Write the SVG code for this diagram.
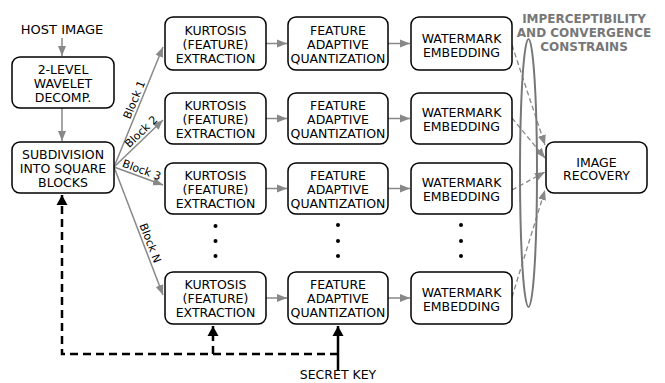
<svg xmlns="http://www.w3.org/2000/svg" width="665" height="383" viewBox="0 0 665 383">
<defs>
<marker id="ga" markerUnits="userSpaceOnUse" markerWidth="10" markerHeight="10" viewBox="0 0 10 10" refX="10" refY="5" orient="auto"><path d="M0,1 L10,5 L0,9 Z" fill="#888"/></marker>
<marker id="ba" markerUnits="userSpaceOnUse" markerWidth="10" markerHeight="12" viewBox="0 0 10 12" refX="10" refY="6" orient="auto"><path d="M0,0.5 L10,6 L0,11.5 Z" fill="#000"/></marker>
<style>
.box{fill:#fff;stroke:#000;stroke-width:1.5}
.t{font-family:"DejaVu Sans",sans-serif;font-size:12.5px;fill:#000;text-anchor:middle}
.bl{font-family:"DejaVu Sans",sans-serif;font-size:11px;fill:#000;text-anchor:middle}
.ttl{font-family:"DejaVu Sans",sans-serif;font-size:12px;font-weight:bold;fill:#777;text-anchor:middle}
.g{stroke:#888;stroke-width:1.5;fill:none}
.gd{stroke:#888;stroke-width:1.3;fill:none;stroke-dasharray:5,3}
.kd{stroke:#000;stroke-width:2.5;fill:none;stroke-dasharray:8,5}
.ks{stroke:#000;stroke-width:2.5;fill:none}
.dot{fill:#000}
</style>
</defs>

<text class="t" x="62" y="34" style="font-size:13px">HOST IMAGE</text>

<g id="connectors">
<line class="g" x1="62" y1="38" x2="62" y2="56" marker-end="url(#ga)"/>
<line class="g" x1="62" y1="108" x2="62" y2="141" marker-end="url(#ga)"/>
<line class="g" x1="114" y1="167" x2="163" y2="47" marker-end="url(#ga)"/>
<line class="g" x1="114" y1="167" x2="163" y2="120" marker-end="url(#ga)"/>
<line class="g" x1="114" y1="167" x2="163" y2="185" marker-end="url(#ga)"/>
<line class="g" x1="114" y1="167" x2="163" y2="295" marker-end="url(#ga)"/>
<line class="g" x1="266" y1="43.5" x2="287" y2="43.5" marker-end="url(#ga)"/>
<line class="g" x1="266" y1="118.5" x2="287" y2="118.5" marker-end="url(#ga)"/>
<line class="g" x1="266" y1="188.5" x2="287" y2="188.5" marker-end="url(#ga)"/>
<line class="g" x1="266" y1="298" x2="287" y2="298" marker-end="url(#ga)"/>
<line class="g" x1="388" y1="43.5" x2="410" y2="43.5" marker-end="url(#ga)"/>
<line class="g" x1="388" y1="118.5" x2="410" y2="118.5" marker-end="url(#ga)"/>
<line class="g" x1="388" y1="188.5" x2="410" y2="188.5" marker-end="url(#ga)"/>
<line class="g" x1="388" y1="298" x2="410" y2="298" marker-end="url(#ga)"/>
<line class="gd" x1="512" y1="45" x2="545" y2="145" marker-end="url(#ga)"/>
<line class="gd" x1="512" y1="118" x2="545" y2="158" marker-end="url(#ga)"/>
<line class="gd" x1="512" y1="190" x2="545" y2="172" marker-end="url(#ga)"/>
<line class="gd" x1="512" y1="297" x2="545" y2="190" marker-end="url(#ga)"/>
<path class="kd" d="M338,354 H62 V195" marker-end="url(#ba)"/>
<path class="kd" d="M213,354 V326" marker-end="url(#ba)"/>
<path class="ks" d="M338,370 V326" marker-end="url(#ba)"/>
<text class="bl" transform="translate(140.5,102.2) rotate(-67.8)" x="0" y="-3">Block 1</text>
<text class="bl" transform="translate(145.8,136.6) rotate(-43.8)" x="0" y="-3">Block 2</text>
<text class="bl" transform="translate(139.4,176.3) rotate(20.2)" x="0" y="-3">Block 3</text>
<text class="bl" transform="translate(144,245.4) rotate(69)" x="0" y="-3">Block N</text>
</g>

<g id="constraint">
<ellipse cx="528.5" cy="173" rx="8.5" ry="134" fill="none" stroke="#777" stroke-width="2"/>
<text class="ttl" x="584" y="22.5">IMPERCEPTIBILITY</text>
<text class="ttl" x="584" y="36.5">AND CONVERGENCE</text>
<text class="ttl" x="584" y="50.5">CONSTRAINS</text>
</g>

<g id="wavelet">
<rect class="box" x="12" y="57" width="102" height="51" rx="8"/>
<text class="t" x="63" y="74">2-LEVEL</text>
<text class="t" x="63" y="88">WAVELET</text>
<text class="t" x="63" y="102">DECOMP.</text>
</g>

<g id="subdivision">
<rect class="box" x="12" y="142" width="102" height="51" rx="8"/>
<text class="t" x="63" y="159">SUBDIVISION</text>
<text class="t" x="63" y="173">INTO SQUARE</text>
<text class="t" x="63" y="187">BLOCKS</text>
</g>

<g id="kurtosis1"><rect class="box" x="165" y="17" width="101" height="53" rx="8"/>
<text class="t" x="215.5" y="34.5">KURTOSIS</text><text class="t" x="215.5" y="48.5">(FEATURE)</text><text class="t" x="215.5" y="62.5">EXTRACTION</text></g>
<g id="kurtosis2"><rect class="box" x="165" y="93" width="101" height="51" rx="8"/>
<text class="t" x="215.5" y="109.5">KURTOSIS</text><text class="t" x="215.5" y="123.5">(FEATURE)</text><text class="t" x="215.5" y="137.5">EXTRACTION</text></g>
<g id="kurtosis3"><rect class="box" x="165" y="163" width="101" height="51" rx="8"/>
<text class="t" x="215.5" y="179.5">KURTOSIS</text><text class="t" x="215.5" y="193.5">(FEATURE)</text><text class="t" x="215.5" y="207.5">EXTRACTION</text></g>
<g id="kurtosisN"><rect class="box" x="165" y="272" width="101" height="52" rx="8"/>
<text class="t" x="215.5" y="289">KURTOSIS</text><text class="t" x="215.5" y="303">(FEATURE)</text><text class="t" x="215.5" y="317">EXTRACTION</text></g>

<g id="quant1"><rect class="box" x="288" y="17" width="100" height="53" rx="8"/>
<text class="t" x="338" y="34.5">FEATURE</text><text class="t" x="338" y="48.5">ADAPTIVE</text><text class="t" x="338" y="62.5">QUANTIZATION</text></g>
<g id="quant2"><rect class="box" x="288" y="93" width="100" height="51" rx="8"/>
<text class="t" x="338" y="109.5">FEATURE</text><text class="t" x="338" y="123.5">ADAPTIVE</text><text class="t" x="338" y="137.5">QUANTIZATION</text></g>
<g id="quant3"><rect class="box" x="288" y="163" width="100" height="51" rx="8"/>
<text class="t" x="338" y="179.5">FEATURE</text><text class="t" x="338" y="193.5">ADAPTIVE</text><text class="t" x="338" y="207.5">QUANTIZATION</text></g>
<g id="quantN"><rect class="box" x="288" y="272" width="100" height="52" rx="8"/>
<text class="t" x="338" y="289">FEATURE</text><text class="t" x="338" y="303">ADAPTIVE</text><text class="t" x="338" y="317">QUANTIZATION</text></g>

<g id="wm1"><rect class="box" x="411" y="17" width="101" height="53" rx="8"/>
<text class="t" x="461.5" y="42.5">WATERMARK</text><text class="t" x="461.5" y="56.5">EMBEDDING</text></g>
<g id="wm2"><rect class="box" x="411" y="93" width="101" height="51" rx="8"/>
<text class="t" x="461.5" y="117">WATERMARK</text><text class="t" x="461.5" y="131">EMBEDDING</text></g>
<g id="wm3"><rect class="box" x="411" y="163" width="101" height="51" rx="8"/>
<text class="t" x="461.5" y="187">WATERMARK</text><text class="t" x="461.5" y="201">EMBEDDING</text></g>
<g id="wmN"><rect class="box" x="411" y="272" width="101" height="52" rx="8"/>
<text class="t" x="461.5" y="297">WATERMARK</text><text class="t" x="461.5" y="311">EMBEDDING</text></g>

<g id="recovery"><rect class="box" x="546" y="142" width="101" height="51" rx="8"/>
<text class="t" x="596.5" y="166.5">IMAGE</text><text class="t" x="596.5" y="180">RECOVERY</text></g>

<g id="dots">
<circle class="dot" cx="215.5" cy="226" r="2"/><circle class="dot" cx="215.5" cy="241" r="2"/><circle class="dot" cx="215.5" cy="256" r="2"/>
<circle class="dot" cx="338" cy="225" r="2"/><circle class="dot" cx="338" cy="241" r="2"/><circle class="dot" cx="338" cy="256" r="2"/>
<circle class="dot" cx="461" cy="225" r="2"/><circle class="dot" cx="461" cy="241" r="2"/><circle class="dot" cx="461" cy="256" r="2"/>
</g>

<text class="t" x="338" y="379">SECRET KEY</text>
</svg>
